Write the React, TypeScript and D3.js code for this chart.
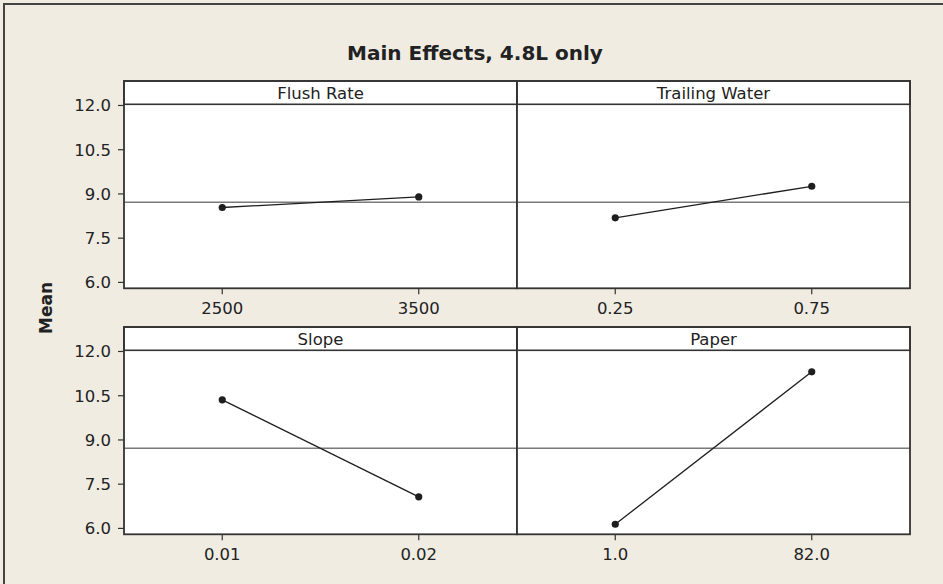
import React from "react";
import * as d3 from "d3";

const factors = ["Flush Rate", "Trailing Water", "Slope", "Paper"];
const levels = [
  ["2500", "3500"],
  ["0.25", "0.75"],
  ["0.01", "0.02"],
  ["1.0", "82.0"],
];
const means = [
  [8.54, 8.9],
  [8.19, 9.26],
  [10.36, 7.07],
  [6.14, 11.31],
];
const grandMean = 8.72;
const yTicks = [6.0, 7.5, 9.0, 10.5, 12.0];
const title = "Main Effects, 4.8L only";
const yLabel = "Mean";

const W = 943;
const H = 584;
const BG = "#F0ECE2";
const FONT = "'DejaVu Sans', Verdana, sans-serif";

const colX = [124, 517];
const panelW = 393;
const rowTop = [81, 327];
const headerH = 23.3;
const plotH = 184;

export default function App() {
  const y = d3.scaleLinear().domain([5.8, 12.04]).range([plotH, 0]);

  const panels = factors.map((f, i) => {
    const col = i % 2;
    const row = Math.floor(i / 2);
    const x0 = colX[col];
    const top = rowTop[row];
    const pt = top + headerH;
    const x = d3.scalePoint<string>().domain(levels[i]).range([0, panelW]).padding(0.5);
    const line = d3
      .line<number>()
      .x((_, k) => x(levels[i][k]) as number)
      .y((v) => y(v));
    return (
      <g key={f}>
        <g transform={`translate(${x0},${pt})`}>
          <rect x={0} y={0} width={panelW} height={plotH} fill="#fff" />
          <line x1={0} x2={panelW} y1={y(grandMean)} y2={y(grandMean)} stroke="#7a7a7a" strokeWidth={1.4} />
          <path d={line(means[i]) || ""} fill="none" stroke="#1e1e1e" strokeWidth={1.3} />
          {means[i].map((v, k) => (
            <circle key={k} cx={x(levels[i][k]) as number} cy={y(v)} r={3.6} fill="#1e1e1e" />
          ))}
          {levels[i].map((l) => (
            <g key={l} transform={`translate(${x(l)},${plotH})`}>
              <line y1={0} y2={6} stroke="#333" strokeWidth={1.2} />
              <text y={26} textAnchor="middle" fontSize={16.5} fill="#222" fontFamily={FONT}>
                {l}
              </text>
            </g>
          ))}
          {col === 0 &&
            yTicks.map((t) => (
              <g key={t} transform={`translate(0,${y(t)})`}>
                <line x1={-6} x2={0} stroke="#333" strokeWidth={1.2} />
                <text x={-13} dy="0.36em" textAnchor="end" fontSize={16.5} fill="#222" fontFamily={FONT}>
                  {t.toFixed(1)}
                </text>
              </g>
            ))}
        </g>
        <rect x={x0} y={top} width={panelW} height={headerH} fill="#fff" stroke="#333" strokeWidth={1.6} />
        <text
          x={x0 + panelW / 2}
          y={top + headerH / 2}
          dy="0.36em"
          textAnchor="middle"
          fontSize={16.5}
          fill="#222"
          fontFamily={FONT}
        >
          {f}
        </text>
        <rect x={x0} y={top} width={panelW} height={headerH + plotH} fill="none" stroke="#333" strokeWidth={1.8} />
      </g>
    );
  });

  return (
    <div style={{ position: "fixed", left: 0, top: 0 }}>
      <svg width={W} height={H} style={{ display: "block" }}>
        <rect width={W} height={H} fill={BG} />
        <rect x={4} y={4} width={W + 20} height={H + 20} fill="none" stroke="#444" strokeWidth={2} />
        <text x={475} y={60} textAnchor="middle" fontSize={20} fontWeight="bold" fill="#222" fontFamily={FONT}>
          {title}
        </text>
        <text
          transform={`translate(52,308) rotate(-90)`}
          textAnchor="middle"
          fontSize={17}
          fontWeight="bold"
          fill="#222"
          fontFamily={FONT}
        >
          {yLabel}
        </text>
        {panels}
      </svg>
    </div>
  );
}
